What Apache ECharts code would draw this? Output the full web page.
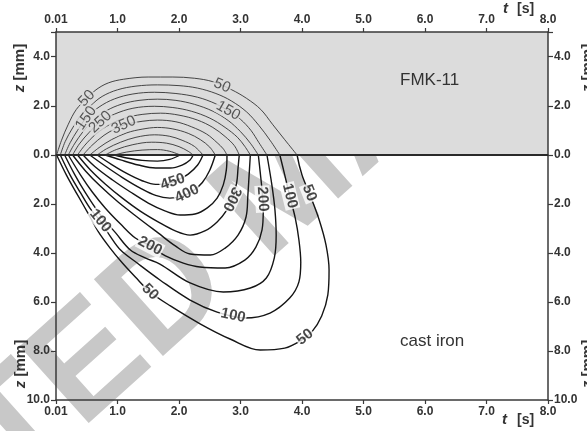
<!DOCTYPE html>
<html><head><meta charset="utf-8">
<script src="https://cdn.jsdelivr.net/npm/echarts/dist/echarts.min.js"></script>
<style>html,body{margin:0;padding:0;background:#fff}#c{width:587px;height:431px}</style>
</head><body><div id="c"></div>
<script>
// time axis ticks (s) and depth ticks (mm)
const tTicks = [0, 1, 2, 3, 4, 5, 6, 7, 8];
const levels = [50, 100, 150, 200, 250, 300, 350, 400, 450, 500, 550];

// FMK-11 layer contours [t (s), z (mm, upward from interface)]
const top50  = [[0.01,0],[0.09,0.6],[0.2,1.25],[0.33,1.85],[0.5,2.3],[0.65,2.65],[0.85,2.93],[1.1,3.08],[1.5,3.17],[1.9,3.17],[2.25,3.12],[2.55,2.98],[2.85,2.66],[3.1,2.3],[3.33,1.85],[3.52,1.25],[3.72,0.62],[3.92,0]];
const top100 = [[0.07,0],[0.15,0.55],[0.27,1.1],[0.4,1.6],[0.56,2.0],[0.75,2.38],[1.0,2.65],[1.3,2.8],[1.65,2.85],[2.0,2.82],[2.3,2.72],[2.6,2.5],[2.85,2.2],[3.1,1.75],[3.3,1.2],[3.48,0.6],[3.64,0]];
const top150 = [[0.14,0],[0.23,0.5],[0.35,1.0],[0.49,1.5],[0.7,1.95],[0.95,2.28],[1.25,2.48],[1.6,2.55],[1.95,2.5],[2.3,2.35],[2.6,2.08],[2.8,1.8],[3.0,1.45],[3.17,1.0],[3.3,0.5],[3.43,0]];
const top200 = [[0.2,0],[0.3,0.45],[0.44,0.95],[0.6,1.4],[0.82,1.8],[1.07,2.07],[1.35,2.22],[1.65,2.27],[1.95,2.22],[2.25,2.06],[2.55,1.78],[2.8,1.4],[3.0,0.95],[3.16,0.48],[3.29,0]];
const top250 = [[0.27,0],[0.38,0.45],[0.54,0.92],[0.72,1.34],[0.95,1.66],[1.25,1.9],[1.6,1.98],[1.9,1.93],[2.2,1.78],[2.5,1.5],[2.75,1.12],[2.95,0.72],[3.07,0.35],[3.16,0]];
const top300 = [[0.35,0],[0.47,0.4],[0.65,0.85],[0.88,1.25],[1.12,1.5],[1.4,1.65],[1.7,1.7],[2.0,1.62],[2.3,1.42],[2.55,1.12],[2.75,0.75],[2.9,0.38],[2.98,0]];
const top350 = [[0.44,0],[0.58,0.38],[0.78,0.8],[0.95,1.05],[1.1,1.22],[1.4,1.37],[1.65,1.42],[1.95,1.35],[2.2,1.15],[2.45,0.85],[2.62,0.5],[2.72,0.25],[2.78,0]];
const top400 = [[0.55,0],[0.7,0.3],[0.9,0.62],[1.15,0.9],[1.4,1.05],[1.65,1.12],[1.9,1.06],[2.15,0.88],[2.35,0.62],[2.5,0.32],[2.59,0]];
const top450 = [[0.67,0],[0.82,0.25],[1.05,0.52],[1.3,0.72],[1.6,0.82],[1.85,0.76],[2.05,0.6],[2.25,0.35],[2.39,0]];
const top500 = [[0.8,0],[0.98,0.22],[1.25,0.42],[1.55,0.52],[1.8,0.48],[2.0,0.34],[2.15,0.15],[2.23,0]];
const top550 = [[0.95,0],[1.15,0.12],[1.4,0.2],[1.65,0.22],[1.85,0.15],[2.02,0]];

// cast iron contours [t (s), z (mm, downward from interface)]
const bot50  = [[0.01,0],[0.17,0.82],[0.35,1.63],[0.51,2.33],[0.69,3.14],[0.88,3.80],[1.08,4.41],[1.29,4.98],[1.53,5.59],[1.86,6.16],[2.35,6.90],[2.83,7.51],[3.32,7.96],[3.72,7.88],[3.97,7.59],[4.16,7.22],[4.32,6.57],[4.42,5.71],[4.44,4.69],[4.39,3.67],[4.28,2.65],[4.13,1.63],[4.0,0.82],[3.92,0]];
const bot100 = [[0.07,0],[0.23,0.82],[0.40,1.55],[0.56,2.20],[0.72,2.69],[0.88,3.31],[1.05,3.88],[1.32,4.41],[1.69,5.10],[2.18,5.92],[2.62,6.41],[3.07,6.65],[3.48,6.45],[3.80,5.84],[3.95,5.18],[3.98,4.37],[3.95,3.47],[3.89,2.57],[3.80,1.67],[3.72,0.82],[3.64,0]];
const bot150 = [[0.14,0],[0.30,0.78],[0.48,1.55],[0.70,2.37],[0.97,3.18],[1.21,3.88],[1.45,4.2],[1.69,4.45],[2.18,5.22],[2.72,5.59],[3.16,5.43],[3.42,5.02],[3.55,4.20],[3.58,3.27],[3.56,2.24],[3.51,1.22],[3.43,0]];
const bot200 = [[0.20,0],[0.40,0.82],[0.59,1.51],[0.80,2.16],[1.05,2.82],[1.29,3.39],[1.53,3.71],[1.78,4.12],[2.07,4.41],[2.34,4.57],[2.75,4.61],[3.07,4.29],[3.25,3.76],[3.35,3.06],[3.37,2.24],[3.35,1.43],[3.32,0.69],[3.29,0]];
const bot250 = [[0.27,0],[0.48,0.65],[0.72,1.27],[1.01,1.92],[1.34,2.57],[1.66,3.18],[1.94,3.71],[2.18,4.04],[2.51,4.08],[2.75,3.80],[2.96,3.27],[3.09,2.53],[3.12,1.63],[3.14,0.82],[3.16,0]];
const bot300 = [[0.35,0],[0.56,0.61],[0.80,1.18],[1.08,1.76],[1.37,2.29],[1.66,2.73],[1.94,3.10],[2.18,3.27],[2.42,3.10],[2.62,2.73],[2.78,2.24],[2.88,1.71],[2.94,1.10],[2.96,0.53],[2.98,0]];
const bot350 = [[0.44,0],[0.64,0.49],[0.92,1.02],[1.21,1.51],[1.50,1.96],[1.78,2.29],[2.02,2.45],[2.26,2.41],[2.46,2.16],[2.62,1.76],[2.72,1.22],[2.77,0.61],[2.78,0]];
const bot400 = [[0.55,0],[0.80,0.45],[1.08,0.92],[1.37,1.35],[1.62,1.65],[1.85,1.76],[2.05,1.68],[2.22,1.48],[2.38,1.12],[2.50,0.62],[2.59,0]];
const bot450 = [[0.67,0],[0.90,0.38],[1.15,0.75],[1.40,1.05],[1.62,1.20],[1.80,1.17],[1.98,1.02],[2.15,0.78],[2.30,0.42],[2.39,0]];
const bot500 = [[0.80,0],[1.05,0.20],[1.34,0.41],[1.62,0.53],[1.86,0.53],[2.05,0.41],[2.18,0.20],[2.23,0]];
const bot550 = [[0.95,0],[1.15,0.12],[1.4,0.22],[1.65,0.25],[1.85,0.18],[2.02,0]];

// contour labels: [level, t, z]
const topLabels = [[50,0.5,2.3],[150,0.49,1.5],[250,0.72,1.34],[350,1.1,1.22],[50,2.7,2.82],[150,2.8,1.8]];
const botLabels = [[450,1.9,1.1],[400,2.13,1.58],[300,2.86,1.8],[200,3.36,1.8],[100,3.80,1.67],[50,4.12,1.55],[100,0.72,2.69],[200,1.53,3.71],[50,1.53,5.59],[100,2.88,6.55],[50,4.05,7.43]];

const topSet = [top50,top100,top150,top200,top250,top300,top350,top400,top450,top500,top550];
const botSet = [bot50,bot100,bot150,bot200,bot250,bot300,bot350,bot400,bot450,bot500,bot550];

const chart = echarts.init(document.getElementById('c'), null, {renderer:'canvas'});
const FONT = '"Liberation Sans", Arial, sans-serif';
const AX = '#3a3a3a';
const fmt = v => (v === 0 ? '0.01' : v.toFixed(1));
const zfmt = v => (v === 5 ? '' : v.toFixed(1));

function xAxisCfg(grid, pos){
  return {gridIndex:grid, type:'value', position:pos, min:tTicks[0], max:tTicks[tTicks.length-1], interval:1, z:4,
    axisLine:{show:true, onZero:false, lineStyle:{color:AX, width:1.5}},
    axisTick:{show:true, length:4, lineStyle:{color:AX, width:1.2}},
    axisLabel:{formatter:fmt, color:'#333', fontWeight:'bold', fontSize:12, fontFamily:FONT, margin:6},
    splitLine:{show:false}};
}
function yAxisCfg(grid, pos, inverse, max, hideMin){
  return {gridIndex:grid, type:'value', position:pos, inverse:inverse, min:0, max:max, interval:2, z:4,
    axisLine:{show:true, onZero:false, lineStyle:{color:AX, width:1.5}},
    axisTick:{show:true, length:5, lineStyle:{color:AX, width:1.2}},
    axisLabel:{formatter:zfmt, color:'#333', fontWeight:'bold', fontSize:12, fontFamily:FONT, margin:6, showMinLabel:!hideMin},
    splitLine:{show:false}};
}

function lineSeries(pts, xi, yi, top){
  return {type:'line', xAxisIndex:xi, yAxisIndex:yi, data:pts, showSymbol:false, symbol:'none', smooth:0.35, z:3, silent:true,
    lineStyle:{color: top ? '#333' : '#151515', width: top ? 0.9 : 1.4}};
}

const series = [];
topSet.forEach(p => series.push(lineSeries(p, 0, 0, true)));
botSet.forEach(p => series.push(lineSeries(p, 1, 2, false)));
// interface line
series.push({type:'line', xAxisIndex:1, yAxisIndex:2, data:[], z:5,
  markLine:{silent:true, symbol:'none', label:{show:false}, animation:false,
    lineStyle:{color:'#2a2a2a', width:2, type:'solid'}, data:[{yAxis:0}]}});

function labelSeries(list, xi, yi, top, rots){
  return {type:'scatter', xAxisIndex:xi, yAxisIndex:yi, symbolSize:1, z:10, silent:true,
    itemStyle:{color:'rgba(0,0,0,0)'},
    label:{show:true, position:'inside', formatter:'{b}', fontSize:15, fontFamily:FONT,
      fontWeight: top ? 'normal' : 'bold', color: top ? '#333' : '#1a1a1a',
      backgroundColor: top ? '#dcdcdc' : '#ffffff', padding:[0,1], lineHeight:15},
    data: list.map((l,i) => ({name:String(l[0]), value:[l[1], l[2]], label:{rotate: rots ? rots[i] : 0}}))};
}

const graphics = [
  {type:'text', x:199, y:268, rotation:42*Math.PI/180, z:-10, zlevel:0, silent:true,
   style:{text:'TED MA', font:'bold 150px ' + FONT, fill:'#c8c8c8', textAlign:'center', textVerticalAlign:'middle'}},
  {type:'text', x:400, y:80, z:20, style:{text:'FMK-11', font:'17px ' + FONT, fill:'#333', textVerticalAlign:'middle'}},
  {type:'text', x:400, y:341, z:20, style:{text:'cast iron', font:'17px ' + FONT, fill:'#333', textVerticalAlign:'middle'}},
  {type:'text', x:503, y:9, z:20, style:{text:'t', font:'italic bold 15px ' + FONT, fill:'#333', textVerticalAlign:'middle'}},
  {type:'text', x:517, y:9, z:20, style:{text:'[s]', font:'bold 14px ' + FONT, fill:'#333', textVerticalAlign:'middle'}},
  {type:'text', x:502, y:420, z:20, style:{text:'t', font:'italic bold 15px ' + FONT, fill:'#333', textVerticalAlign:'middle'}},
  {type:'text', x:517, y:420, z:20, style:{text:'[s]', font:'bold 14px ' + FONT, fill:'#333', textVerticalAlign:'middle'}}
];
[[20,68],[21,364],[588,68],[588,364]].forEach(p => {
  graphics.push({type:'text', x:p[0], y:p[1], rotation:Math.PI/2, z:20,
    style:{text:'{i|z} [mm]', rich:{i:{font:'italic bold 15px ' + FONT, fill:'#333'}},
      font:'bold 15px ' + FONT, fill:'#333', textAlign:'center', textVerticalAlign:'middle'}});
});

const option = {
  animation:false,
  backgroundColor:'#ffffff',
  grid:[
    {left:56, top:32, width:492, height:123, show:true, backgroundColor:'#dcdcdc', borderWidth:0, z:0},
    {left:56, top:155, width:492, height:245, show:false}
  ],
  xAxis:[xAxisCfg(0,'top'), xAxisCfg(1,'bottom')],
  yAxis:[yAxisCfg(0,'left',false,5,false), yAxisCfg(0,'right',false,5,false),
         yAxisCfg(1,'left',true,10,true), yAxisCfg(1,'right',true,10,true)],
  graphic:graphics,
  series: series.concat([labelSeries(topLabels,0,0,true,null), labelSeries(botLabels,1,2,false,null)])
};
chart.setOption(option);

function angleAt(pts, p, xi, yi){
  const P = pts.map(q => chart.convertToPixel({xAxisIndex:xi, yAxisIndex:yi}, q));
  const L = chart.convertToPixel({xAxisIndex:xi, yAxisIndex:yi}, p);
  let best = 1e12, ang = 0;
  for (let i = 0; i < P.length - 1; i++){
    const a = P[i], b = P[i+1];
    const dx = b[0]-a[0], dy = b[1]-a[1];
    const len2 = dx*dx + dy*dy || 1;
    let u = ((L[0]-a[0])*dx + (L[1]-a[1])*dy) / len2;
    u = Math.max(0, Math.min(1, u));
    const cx = a[0] + u*dx - L[0], cy = a[1] + u*dy - L[1];
    const d = cx*cx + cy*cy;
    if (d < best){ best = d; ang = Math.atan2(-dy, dx) * 180 / Math.PI; }
  }
  while (ang > 58) ang -= 180;
  while (ang <= -122) ang += 180;
  return ang;
}
const topRot = topLabels.map(l => angleAt(topSet[levels.indexOf(l[0])], [l[1], l[2]], 0, 0));
const botRot = botLabels.map(l => angleAt(botSet[levels.indexOf(l[0])], [l[1], l[2]], 1, 2));
chart.setOption({series: series.concat([labelSeries(topLabels,0,0,true,topRot), labelSeries(botLabels,1,2,false,botRot)])});
</script>
</body></html>
